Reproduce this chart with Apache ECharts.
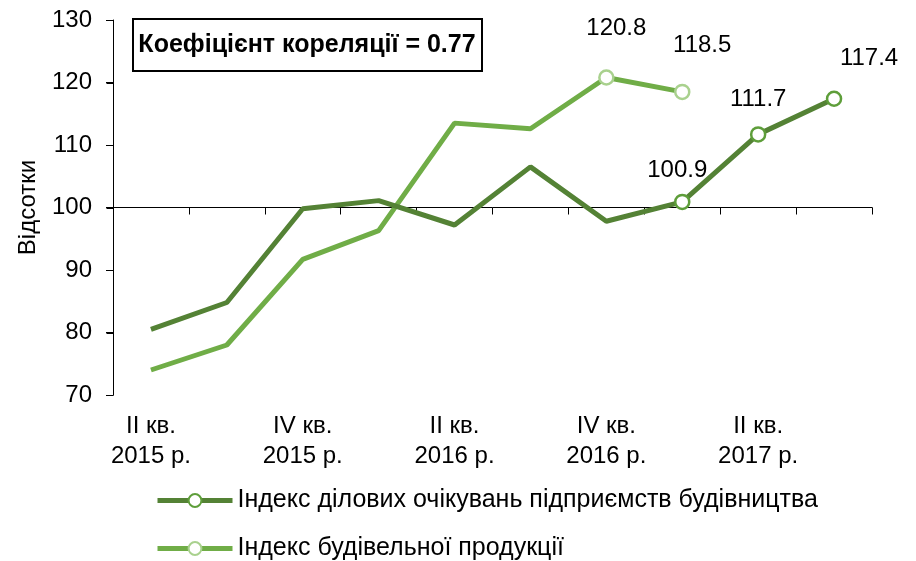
<!DOCTYPE html>
<html>
<head>
<meta charset="utf-8">
<script src="https://cdn.jsdelivr.net/npm/echarts@6/dist/echarts.min.js"></script>
<style>
  html, body { margin: 0; padding: 0; background: #fff; }
  #main { width: 916px; height: 561px; }
</style>
</head>
<body>
<div id="main"></div>
<script>
// квартали
const quarters = [
  'II кв.\n2015 р.', 'III кв.\n2015 р.', 'IV кв.\n2015 р.', 'I кв.\n2016 р.',
  'II кв.\n2016 р.', 'III кв.\n2016 р.', 'IV кв.\n2016 р.', 'I кв.\n2017 р.',
  'II кв.\n2017 р.', 'III кв.\n2017 р.'
]
// Індекс ділових очікувань
const businessIdx = [80.5, 84.8, 99.8, 101.1, 97.2, 106.5, 97.8, 100.9, 111.7, 117.4]
// Індекс будівельної продукції
const productionIdx = [74.0, 78.0, 91.7, 96.3, 113.5, 112.6, 120.8, 118.5, null, null]
const yTicks = [70, 80, 90, 100, 110, 120, 130]
const seriesNames = ['Індекс ділових очікувань підприємств будівництва', 'Індекс будівельної продукції']
const corrText = 'Коефіцієнт кореляції = 0.77'

// точки з підписами (індекс -> зсув підпису)
const businessMarked = { 7: [-5, -6], 8: [0, -10], 9: [35, -15] }
const productionMarked = { 6: [10, -24], 7: [20, -21] }

const font = 'Arial, "Liberation Sans", sans-serif'
const darkGreen = '#548235'
const lightGreen = '#70ad47'
const fs = 24
const gridLeft = 113

function buildData(values, marked, stroke) {
  return values.map(function (v, i) {
    if (v === null) return null
    if (marked[i]) {
      return {
        value: v,
        symbol: 'circle',
        itemStyle: { color: '#fff', borderColor: stroke, borderWidth: 2.5 },
        label: {
          show: true, position: 'top', offset: marked[i],
          formatter: function (p) { return p.value.toFixed(1) },
          color: '#000', fontSize: fs, fontFamily: font
        }
      }
    }
    return { value: v, symbol: 'none' }
  })
}

function legendFor(name, top) {
  return {
    orient: 'vertical',
    left: 155,
    top: top,
    padding: 0,
    itemWidth: 75,
    itemHeight: 16,
    itemGap: 4,
    lineStyle: { width: 5 },
    textStyle: { fontSize: 25, fontFamily: font, color: '#000' },
    data: [name]
  }
}

const axisStroke = { color: '#000', width: 1 }

const chart = echarts.init(document.getElementById('main'))
const option = {
  animation: false,
  grid: { left: gridLeft, right: 44, top: 20, bottom: 166 },
  legend: [legendFor(seriesNames[0], 488), legendFor(seriesNames[1], 536)],
  xAxis: [
    {
      type: 'category',
      data: quarters,
      boundaryGap: true,
      axisLine: { show: false },
      axisTick: { show: false },
      axisLabel: {
        interval: 1, margin: 16, color: '#000',
        fontSize: fs, lineHeight: 30, fontFamily: font
      }
    },
    {
      // лінія на рівні 100
      type: 'category',
      data: quarters,
      position: 'bottom',
      offset: -(100 - yTicks[0]) * 375 / (yTicks[yTicks.length - 1] - yTicks[0]),
      boundaryGap: true,
      axisLine: { show: true, onZero: false, lineStyle: axisStroke },
      axisTick: { show: true, length: 7, lineStyle: axisStroke },
      axisLabel: { show: false }
    }
  ],
  yAxis: {
    type: 'value',
    min: yTicks[0],
    max: yTicks[yTicks.length - 1],
    interval: 10,
    name: 'Відсотки',
    nameLocation: 'middle',
    nameGap: 73,
    nameTextStyle: { fontSize: fs, fontFamily: font, color: '#000' },
    splitLine: { show: false },
    axisLine: { show: true, onZero: false, lineStyle: axisStroke },
    axisTick: { show: true, length: 7, lineStyle: axisStroke },
    axisLabel: { color: '#000', fontSize: fs, fontFamily: font, margin: 21 }
  },
  series: [
    {
      name: seriesNames[0],
      type: 'line',
      data: buildData(businessIdx, businessMarked, '#5e9e3a'),
      lineStyle: { color: darkGreen, width: 5 },
      itemStyle: { color: '#fff', borderColor: '#5e9e3a', borderWidth: 2.5 },
      symbol: 'circle',
      symbolSize: 14,
      z: 3
    },
    {
      name: seriesNames[1],
      type: 'line',
      data: buildData(productionIdx, productionMarked, '#a9d18e'),
      lineStyle: { color: lightGreen, width: 5 },
      itemStyle: { color: '#fff', borderColor: '#a9d18e', borderWidth: 2.5 },
      symbol: 'circle',
      symbolSize: 14,
      z: 2
    }
  ]
}
chart.setOption(option)

// вісь Y малюємо ще й графікою, бо лінія осі інколи не відображається
const x0 = gridLeft + 0.5
const yTop = chart.convertToPixel({ yAxisIndex: 0 }, yTicks[yTicks.length - 1])
const yBottom = chart.convertToPixel({ yAxisIndex: 0 }, yTicks[0])
const graphics = [
  {
    type: 'line',
    shape: { x1: x0, y1: yTop, x2: x0, y2: yBottom },
    style: { stroke: '#000', lineWidth: 1 },
    z: 20
  }
]
yTicks.forEach(function (t) {
  const y = Math.round(chart.convertToPixel({ yAxisIndex: 0 }, t)) + 0.5
  graphics.push({
    type: 'line',
    shape: { x1: x0 - 7, y1: y, x2: x0, y2: y },
    style: { stroke: '#000', lineWidth: 1 },
    z: 20
  })
})
graphics.push({
  type: 'rect',
  shape: { x: 133, y: 19, width: 349, height: 52 },
  style: { fill: '#fff', stroke: '#000', lineWidth: 2 },
  z: 10
})
graphics.push({
  type: 'text',
  x: 307, y: 45,
  style: {
    text: corrText, fill: '#000', font: 'bold 25px ' + font,
    align: 'center', verticalAlign: 'middle'
  },
  z: 11
})
chart.setOption({ graphic: graphics })
</script>
</body>
</html>
